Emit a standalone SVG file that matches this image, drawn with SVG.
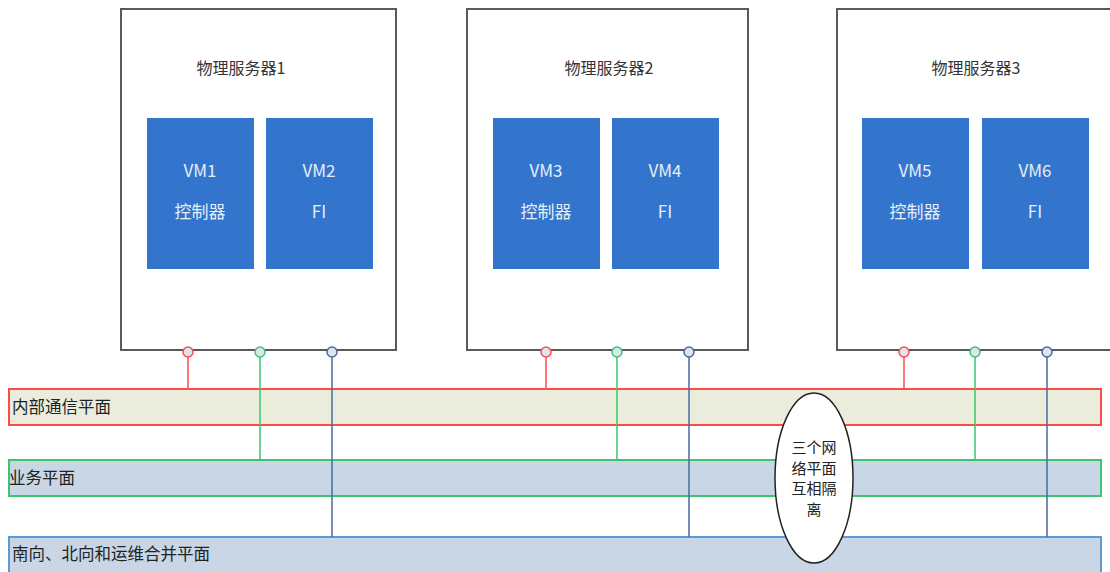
<svg xmlns="http://www.w3.org/2000/svg" width="1110" height="572" viewBox="0 0 1110 572">
<style>
text{font-family:"Noto Sans CJK SC","Liberation Sans",sans-serif;}
.srv{fill:#fff;stroke:#5a5a5a;stroke-width:2;}
.vm{fill:#3375cc;}
.vt{fill:#e6eef9;font-size:17px;text-anchor:middle;}
.st{fill:#333;font-size:16px;text-anchor:middle;}
.pl{fill:#222;font-size:16.5px;}
.pr{fill:#eaeddc;stroke:#ff4a4a;stroke-width:2;}
.pg{fill:#c8d6e6;stroke:#3cc46e;stroke-width:2;}
.pb{fill:#c8d6e6;stroke:#5b9bd5;stroke-width:2;}
.cr{fill:#dde4ee;stroke:#ff4a4a;stroke-width:1.5;}
.cg{fill:#dde4ee;stroke:#3cc46e;stroke-width:1.5;}
.cb{fill:#dde4ee;stroke:#4a6aa0;stroke-width:1.5;}
.lr{stroke:#ff4a4a;stroke-width:1.5;}
.lg{stroke:#3cc46e;stroke-width:1.5;}
.lb{stroke:#4a6aa0;stroke-width:1.5;}
</style>
<g id="plane-internal"><rect class="pr" x="9" y="389" width="1092" height="36"/><text class="pl" x="12" y="413">内部通信平面</text></g>
<g id="plane-business"><rect class="pg" x="9" y="460" width="1092" height="36"/><text class="pl" x="9" y="484">业务平面</text></g>
<g id="plane-mgmt"><rect class="pb" x="9" y="537" width="1092" height="40"/><text class="pl" x="12" y="560">南向、北向和运维合并平面</text></g>
<g id="server1"><rect class="srv" x="121" y="9" width="275" height="341"/><text class="st" x="241" y="74">物理服务器1</text></g>
<g id="vm1"><rect class="vm" x="147" y="118" width="107" height="151"/><text class="vt" x="200" y="177">VM1</text><text class="vt" x="200" y="218">控制器</text></g>
<g id="vm2"><rect class="vm" x="266" y="118" width="107" height="151"/><text class="vt" x="319" y="177">VM2</text><text class="vt" x="319" y="218">FI</text></g>
<g id="server2"><rect class="srv" x="467" y="9" width="281" height="341"/><text class="st" x="609" y="74">物理服务器2</text></g>
<g id="vm3"><rect class="vm" x="493" y="118" width="107" height="151"/><text class="vt" x="546" y="177">VM3</text><text class="vt" x="546" y="218">控制器</text></g>
<g id="vm4"><rect class="vm" x="612" y="118" width="107" height="151"/><text class="vt" x="665" y="177">VM4</text><text class="vt" x="665" y="218">FI</text></g>
<g id="server3"><rect class="srv" x="837" y="9" width="290" height="341"/><text class="st" x="976" y="74">物理服务器3</text></g>
<g id="vm5"><rect class="vm" x="862" y="118" width="107" height="151"/><text class="vt" x="915" y="177">VM5</text><text class="vt" x="915" y="218">控制器</text></g>
<g id="vm6"><rect class="vm" x="982" y="118" width="107" height="151"/><text class="vt" x="1035" y="177">VM6</text><text class="vt" x="1035" y="218">FI</text></g>
<g id="connectors">
<line class="lr" x1="188" y1="357" x2="188" y2="389"/>
<line class="lg" x1="260" y1="357" x2="260" y2="460"/>
<line class="lb" x1="332" y1="357" x2="332" y2="537"/>
<line class="lr" x1="546" y1="357" x2="546" y2="389"/>
<line class="lg" x1="617" y1="357" x2="617" y2="460"/>
<line class="lb" x1="689" y1="357" x2="689" y2="537"/>
<line class="lr" x1="904" y1="357" x2="904" y2="389"/>
<line class="lg" x1="975" y1="357" x2="975" y2="460"/>
<line class="lb" x1="1047" y1="357" x2="1047" y2="537"/>
<circle class="cr" cx="188" cy="352" r="5"/><circle class="cg" cx="260" cy="352" r="5"/><circle class="cb" cx="332" cy="352" r="5"/>
<circle class="cr" cx="546" cy="352" r="5"/><circle class="cg" cx="617" cy="352" r="5"/><circle class="cb" cx="689" cy="352" r="5"/>
<circle class="cr" cx="904" cy="352" r="5"/><circle class="cg" cx="975" cy="352" r="5"/><circle class="cb" cx="1047" cy="352" r="5"/>
</g>
<g id="note"><ellipse cx="814" cy="478" rx="39" ry="85" fill="#fff" stroke="#222" stroke-width="1.5"/>
<text font-size="15" fill="#222" text-anchor="middle"><tspan x="814" y="453">三个网</tspan><tspan x="814" y="473.5">络平面</tspan><tspan x="814" y="494">互相隔</tspan><tspan x="814" y="514.5">离</tspan></text></g>
</svg>
